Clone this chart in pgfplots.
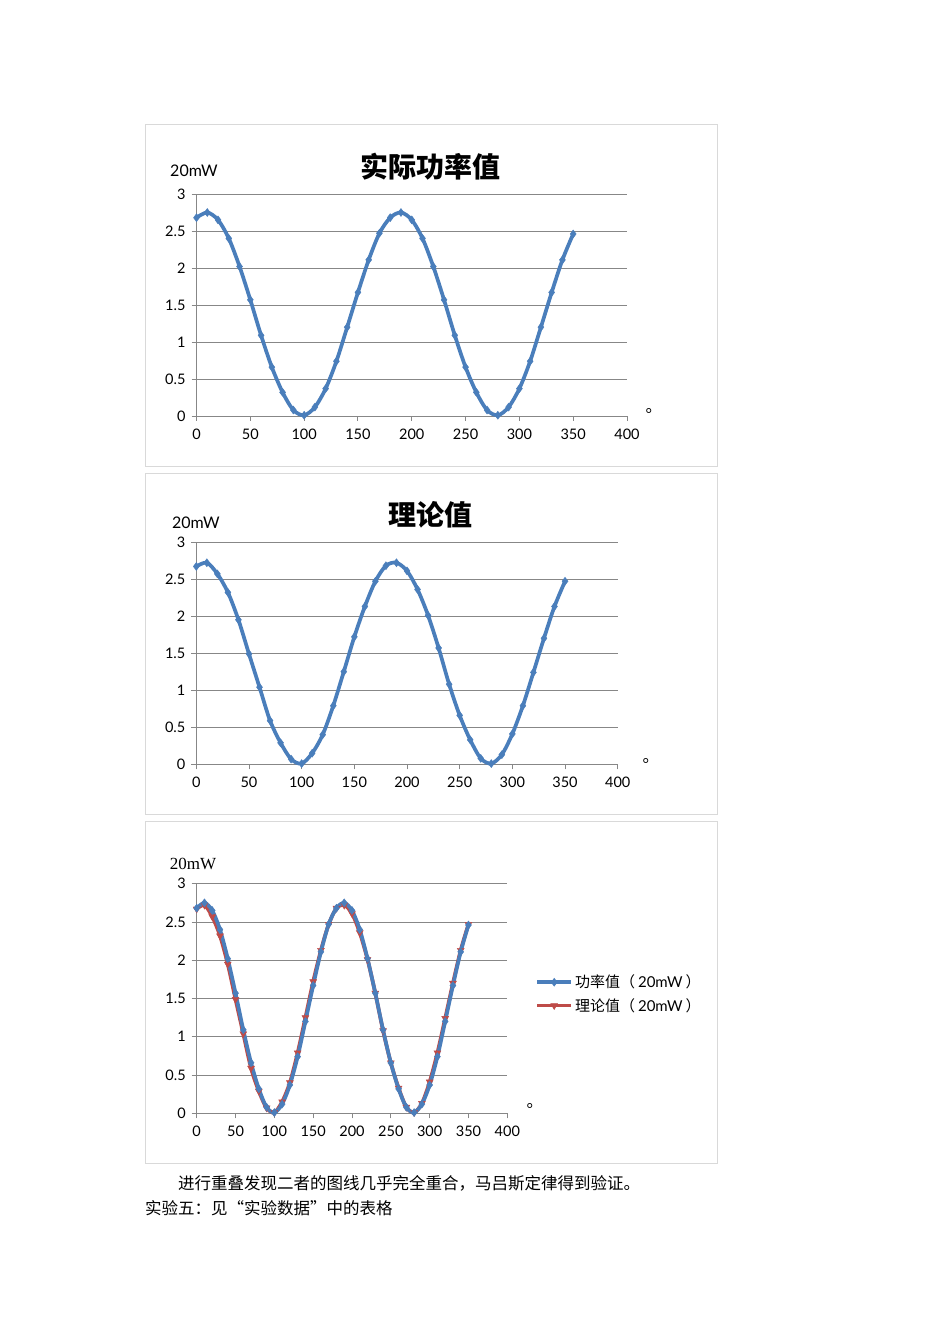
\documentclass[border=0pt]{standalone}
\usepackage{fontspec}
\setmainfont{Lato}
\newfontfamily\cjk{Noto Sans CJK SC}
\newfontfamily\serifw{Liberation Serif}
\usepackage{pgfplots}
\usepackage{pgfplotstable}
\pgfplotsset{compat=1.18}

\definecolor{blueline}{HTML}{4A7EBB}
\definecolor{redline}{HTML}{BE4B48}
\definecolor{gridgray}{HTML}{878787}
\definecolor{framegray}{HTML}{D9D9D9}

% measured power (20mW units)
\pgfplotstableread{
x p
0 2.68
10 2.75
20 2.65
30 2.40
40 2.02
50 1.57
60 1.09
70 0.66
80 0.32
90 0.08
100 0.01
110 0.12
120 0.37
130 0.74
140 1.20
150 1.67
160 2.11
170 2.47
180 2.68
190 2.75
200 2.65
210 2.40
220 2.02
230 1.57
240 1.09
250 0.66
260 0.32
270 0.08
280 0.01
290 0.12
300 0.37
310 0.74
320 1.20
330 1.67
340 2.11
350 2.46
}\actual

% theoretical values
\pgfplotstableread{
x p
0 2.67
10 2.72
20 2.57
30 2.32
40 1.95
50 1.49
60 1.04
70 0.59
80 0.29
90 0.07
100 0.01
110 0.15
120 0.40
130 0.79
140 1.25
150 1.72
160 2.13
170 2.47
180 2.68
190 2.72
200 2.61
210 2.36
220 2.01
230 1.57
240 1.08
250 0.66
260 0.33
270 0.08
280 0.01
290 0.13
300 0.41
310 0.79
320 1.24
330 1.70
340 2.13
350 2.47
}\theory

\pgfplotsset{
  excel/.style={
    scale only axis,
    xmin=0, xmax=400, ymin=0, ymax=3,
    xtick={0,50,...,400}, ytick={0,0.5,...,3},
    axis x line*=bottom, axis y line*=left,
    tick align=outside, major tick length=5pt,
    ymajorgrids,
    grid style={gridgray, line width=0.9pt},
    axis line style={gridgray, line width=0.9pt},
    every tick/.style={gridgray, line width=0.9pt},
    tick label style={font=\fontsize{14.5}{16}\selectfont, black},
    xticklabel style={yshift=-4pt},
    yticklabel style={xshift=-2.5pt},
    /pgf/number format/assume math mode=true,
    clip=false,
  },
  blueser/.style={blueline, line width=3.7pt, smooth, mark=diamond*,
    mark size=4pt, mark options={solid, line width=0.4pt}},
  redser/.style={redline, line width=3.7pt, smooth, mark=triangle*,
    mark size=4pt, mark options={solid, rotate=180, line width=0.4pt}},
}

\begin{document}
\begin{tikzpicture}[x=1pt,y=1pt]
\path[use as bounding box, fill=white] (0,0) rectangle (950,1344);

% frames
\draw[framegray, line width=1pt] (145,1219) rectangle (717,877);
\draw[framegray, line width=1pt] (145,870) rectangle (717,529);
\draw[framegray, line width=1pt] (145,522) rectangle (717,180);

% chart 1
\begin{axis}[excel, at={(196.5pt,928pt)}, anchor=south west,
  width=430.5pt, height=222pt]
\addplot[blueser] table[x=x, y=p] {\actual};
\end{axis}
\node[font=\cjk\bfseries\fontsize{28}{32}\selectfont] at (430.8,1177.3) {实际功率值};
\node[font=\fontsize{16}{18}\selectfont] at (194,1173) {20mW};
\node[font=\cjk\fontsize{16.5}{18}\selectfont, anchor=base west, inner sep=0pt] at (645.5,931) {。};

% chart 2
\begin{axis}[excel, at={(196.3pt,579.7pt)}, anchor=south west,
  width=421.4pt, height=222.3pt]
\addplot[blueser] table[x=x, y=p] {\theory};
\end{axis}
\node[font=\cjk\bfseries\fontsize{28}{32}\selectfont] at (430.8,829) {理论值};
\node[font=\fontsize{16}{18}\selectfont] at (195.8,821) {20mW};
\node[font=\cjk\fontsize{16.5}{18}\selectfont, anchor=base west, inner sep=0pt] at (642.5,581) {。};

% chart 3
\begin{axis}[excel, at={(196.7pt,230.7pt)}, anchor=south west,
  width=310.6pt, height=229.6pt,
  reverse legend,
  legend cell align=left,
  legend style={at={(1.08,0.52)}, anchor=west, draw=none, fill=none,
    font=\fontsize{15}{18}\selectfont, row sep=5pt},
  legend image code/.code={\draw[mark repeat=2, mark phase=2, #1]
    plot coordinates {(0pt,0pt) (17pt,0pt) (34pt,0pt)};},
]
\addplot[redser] table[x=x, y=p] {\theory};
\addlegendentry{{\cjk 理论值（}\hspace{3pt}20mW\hspace{3pt}{\cjk ）}}
\addplot[blueser] table[x=x, y=p] {\actual};
\addlegendentry{{\cjk 功率值（}\hspace{3pt}20mW\hspace{3pt}{\cjk ）}}
\end{axis}
\node[font=\serifw\fontsize{17}{19}\selectfont] at (193,480) {20mW};
\node[font=\cjk\fontsize{16.5}{18}\selectfont, anchor=base west, inner sep=0pt] at (526.5,236) {。};

% body text
\node[font=\cjk\fontsize{16.5}{20}\selectfont, anchor=west, inner sep=0pt] at (178,161)
  {进行重叠发现二者的图线几乎完全重合，马吕斯定律得到验证。};
\node[font=\cjk\fontsize{16.5}{20}\selectfont, anchor=west, inner sep=0pt] at (145,136)
  {实验五：见“实验数据”中的表格};
\end{tikzpicture}
\end{document}
